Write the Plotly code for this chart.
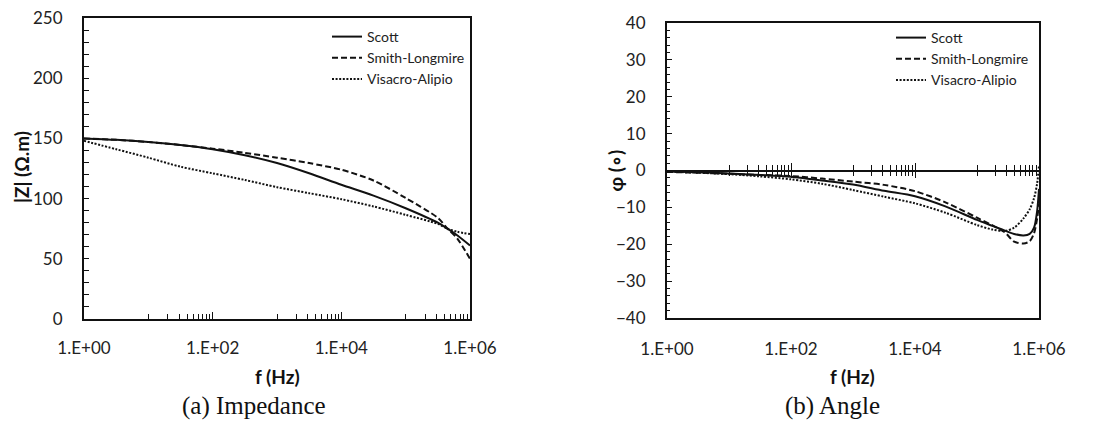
import plotly.graph_objects as go

# ---------------- data ----------------
freq_z = [1, 3.16, 10, 31.6, 100, 316, 1e3, 3.16e3, 1e4, 3.16e4, 1e5, 3.16e5, 4.47e5, 6.31e5, 1e6]
z_scott = [150, 148.8, 147, 144.5, 141, 136, 129.5, 121, 111.5, 102.5, 92, 80, 75, 69.5, 61]
z_smith = [150, 148.8, 147, 144.5, 141.5, 138, 134, 129.5, 124, 115, 100.5, 84, 75, 67, 50]
z_visacro = [148, 141, 134, 126.5, 121, 115.5, 109.5, 104.5, 99.5, 93.5, 86.5, 79, 75, 72.5, 70.5]

freq_phi = [1, 3.16, 10, 31.6, 100, 316, 1e3, 3.16e3, 1e4, 3.16e4, 1e5, 1.78e5, 2.82e5,
            3.98e5, 5.62e5, 7.08e5, 8.32e5, 9.33e5, 1e6]
phi_scott = [-0.3, -0.5, -0.8, -1.2, -1.7, -2.7, -3.8, -5.5, -7.0, -9.8, -13.4, -15.0, -16.3,
             -17.2, -17.6, -17.2, -15.5, -11, -5]
phi_smith = [-0.4, -0.6, -0.9, -1.2, -1.5, -2.2, -3.0, -3.9, -5.6, -8.7, -12.8, -14.9, -16.8,
             -19.3, -19.8, -19.2, -17, -13, -9]
phi_visacro = [-0.3, -0.6, -1.0, -1.6, -2.4, -3.6, -5.3, -7.1, -8.9, -11.5, -14.8, -16.0, -16.4,
               -15.5, -13, -10.5, -7.5, -3.5, 1.5]

series_names = ["Scott", "Smith-Longmire", "Visacro-Alipio"]
x_tickvals = [1, 100, 1e4, 1e6]
x_ticktext = ["1.E+00", "1.E+02", "1.E+04", "1.E+06"]
x_minor = [10, 20, 30, 40, 50, 60, 70, 80, 90,
           1e3, 2e3, 3e3, 4e3, 5e3, 6e3, 7e3, 8e3, 9e3,
           1e5, 2e5, 3e5, 4e5, 5e5, 6e5, 7e5, 8e5, 9e5]

# ---------------- style ----------------
FONT = "Lato"
INK = "#111111"
styles = [dict(color=INK, width=2, dash="solid"),
          dict(color=INK, width=2, dash="6px,3px"),
          dict(color=INK, width=2, dash="2px,1.6px")]

fig = go.Figure()

for name, ys, st in zip(series_names, [z_scott, z_smith, z_visacro], styles):
    fig.add_trace(go.Scatter(x=freq_z, y=ys, mode="lines", name=name,
                             line=dict(shape="spline", smoothing=0.8, **st),
                             xaxis="x", yaxis="y", legend="legend"))
for name, ys, st in zip(series_names, [phi_scott, phi_smith, phi_visacro], styles):
    fig.add_trace(go.Scatter(x=freq_phi, y=ys, mode="lines", name=name,
                             line=dict(shape="spline", smoothing=0.8, **st),
                             xaxis="x2", yaxis="y2", legend="legend2"))

W, H = 1099, 421
def px_x(p):
    return p / W
def px_y(p):
    return (H - p) / H

L1, R1, T1, B1 = 84, 470, 18, 319
L2, R2, T2, B2 = 667, 1039, 23, 318

tickfont = dict(family=FONT, size=17, color="#222")
axline = dict(showline=True, linecolor=INK, linewidth=2, mirror=True, showgrid=False,
              zeroline=False, automargin=False)

fig.update_layout(
    template="none",
    width=W, height=H, margin=dict(l=0, r=0, t=0, b=0, pad=0, autoexpand=False),
    paper_bgcolor="white", plot_bgcolor="white",
    xaxis=dict(domain=[px_x(L1), px_x(R1)], anchor="y", type="log", range=[0, 6],
               tickmode="array", tickvals=x_tickvals, ticktext=x_ticktext,
               ticks="inside", ticklen=7, tickwidth=1.2, tickcolor=INK,
               minor=dict(tickmode="array", tickvals=x_minor, ticks="inside", ticklen=5,
                          tickwidth=1.2, tickcolor=INK, showgrid=False),
               tickfont=tickfont, ticklabelstandoff=13, **axline),
    yaxis=dict(domain=[px_y(B1), px_y(T1)], anchor="x", range=[0, 250],
               tickmode="linear", tick0=0, dtick=50,
               ticks="inside", ticklen=5, tickwidth=1.2, tickcolor=INK,
               minor=dict(dtick=10, ticks="inside", ticklen=5, tickwidth=1.2, tickcolor=INK,
                          showgrid=False),
               tickfont=tickfont, ticklabelstandoff=16, **axline),
    xaxis2=dict(domain=[px_x(L2), px_x(R2)], anchor="y2", type="log", range=[0, 6],
                tickmode="array", tickvals=x_tickvals, ticktext=x_ticktext,
                ticks="", tickfont=tickfont, ticklabelstandoff=15, **axline),
    yaxis2=dict(domain=[px_y(B2), px_y(T2)], anchor="x2", range=[-40, 40],
                tickmode="linear", tick0=0, dtick=10,
                ticks="inside", ticklen=5, tickwidth=1.2, tickcolor=INK,
                minor=dict(dtick=2, ticks="inside", ticklen=3, tickwidth=1, tickcolor=INK,
                           showgrid=False),
                tickfont=tickfont, ticklabelstandoff=16, **axline),
)

# zero-line axes with crossing ticks on the angle plot
zero_pos = px_y((T2 + B2) / 2)
for ax_name, tdir in [("xaxis3", "inside"), ("xaxis4", "outside")]:
    fig.update_layout({ax_name: dict(
        overlaying="x2", anchor="free", position=zero_pos, type="log", range=[0, 6],
        showline=True, linecolor=INK, linewidth=1.5, showgrid=False, zeroline=False,
        automargin=False, showticklabels=False, tickmode="array", tickvals=[100, 1e4, 1e6],
        ticks=tdir, ticklen=6.5, tickwidth=1.2, tickcolor=INK,
        minor=dict(tickmode="array", tickvals=x_minor, ticks=tdir, ticklen=4.5,
                   tickwidth=1.2, tickcolor=INK, showgrid=False))})
# invisible helper traces so the zero-line axes render
for xa in ["x3", "x4"]:
    fig.add_trace(go.Scatter(x=[1, 1e6], y=[0, 0], mode="lines", line=dict(width=0),
                             xaxis=xa, yaxis="y2", showlegend=False, hoverinfo="skip"))

legfont = dict(family=FONT, size=14, color="#222")
fig.update_layout(
    legend=dict(x=px_x(327), y=px_y(21), xanchor="left", yanchor="top",
                bgcolor="rgba(0,0,0,0)", font=legfont, tracegroupgap=0, itemwidth=30),
    legend2=dict(x=px_x(891), y=px_y(22), xanchor="left", yanchor="top",
                 bgcolor="rgba(0,0,0,0)", font=legfont, tracegroupgap=0, itemwidth=30),
)

title_font = dict(family=FONT, size=19, color="#111")
cap_font = dict(family="Liberation Serif", size=25, color="#111")
ann = [
    dict(text="<b>|Z| (Ω.m)</b>", x=px_x(21.5), y=px_y(167.5), textangle=-90, font=title_font),
    dict(text="<b>φ (∘)</b>", x=px_x(615), y=px_y(170.5), textangle=-90, font=title_font),
    dict(text="<b>f (Hz)</b>", x=px_x(277), y=px_y(376), font=title_font),
    dict(text="<b>f (Hz)</b>", x=px_x(852), y=px_y(376), font=title_font),
    dict(text="(a) Impedance", x=px_x(254), y=px_y(406), font=cap_font),
    dict(text="(b) Angle", x=px_x(832), y=px_y(406), font=cap_font),
]
for a in ann:
    fig.add_annotation(xref="paper", yref="paper", showarrow=False,
                       xanchor="center", yanchor="middle", **a)

fig.write_html("out.html", config={"displayModeBar": False})
